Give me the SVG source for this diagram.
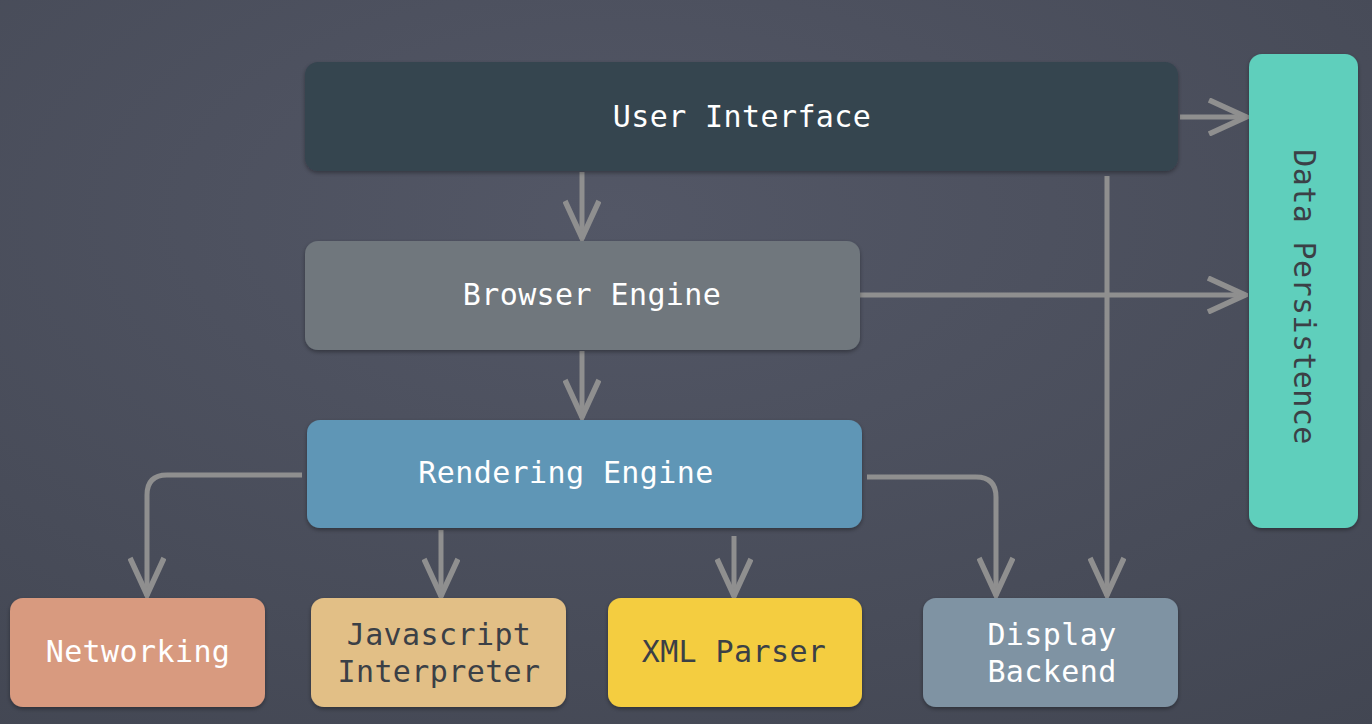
<svg xmlns="http://www.w3.org/2000/svg" width="1372" height="724" viewBox="0 0 1372 724">
  <style>
    .box { filter: url(#shadow); }
    .label { font-family: "DejaVu Sans Mono", "Liberation Mono", monospace; font-size: 30px; text-anchor: middle; letter-spacing: 0.4px; }
    .light { fill: #ffffff; }
    .dark { fill: #3b4046; }
    .wire { fill: none; stroke: #8f8f8f; stroke-width: 5; marker-end: url(#open); }
  </style>
  <defs>
    <radialGradient id="slate" cx="0.45" cy="0.3" r="0.9">
      <stop offset="0" stop-color="#535766"/>
      <stop offset="1" stop-color="#424652"/>
    </radialGradient>
    <filter id="shadow" x="-10%" y="-10%" width="120%" height="130%">
      <feDropShadow dx="0" dy="2" stdDeviation="2" flood-color="#000" flood-opacity="0.35"/>
    </filter>
    <marker id="open" viewBox="0 0 42 38" refX="40" refY="19" markerWidth="42" markerHeight="38" markerUnits="userSpaceOnUse" orient="auto">
      <path d="M2,2 L39,19 L2,36" fill="none" stroke="#8f8f8f" stroke-width="5.5"/>
    </marker>
  </defs>

  <rect width="1372" height="724" fill="url(#slate)"/>

  <g id="connectors">
    <path class="wire" d="M582,172 V239"/>
    <path class="wire" d="M582,351 V418"/>
    <path class="wire" d="M1180,117 H1247"/>
    <path class="wire" d="M860,295 H1246"/>
    <path class="wire" d="M1107,176 V596"/>
    <path class="wire" d="M302,475 H167 Q147,475 147,495 V596"/>
    <path class="wire" d="M441,530 V597"/>
    <path class="wire" d="M734,536 V597"/>
    <path class="wire" d="M867,477 H976 Q996,477 996,497 V596"/>
  </g>

  <g id="user-interface">
    <rect class="box" x="305" y="62" width="873" height="109" rx="13" fill="#35444f"/>
    <text class="label light" x="742" y="127">User Interface</text>
  </g>

  <g id="browser-engine">
    <rect class="box" x="305" y="241" width="555" height="109" rx="13" fill="#6f777d"/>
    <text class="label light" x="592" y="305">Browser Engine</text>
  </g>

  <g id="rendering-engine">
    <rect class="box" x="307" y="420" width="555" height="108" rx="13" fill="#5f96b6"/>
    <text class="label light" x="566" y="483">Rendering Engine</text>
  </g>

  <g id="data-persistence">
    <rect class="box" x="1249" y="54" width="109" height="474" rx="13" fill="#5ecfbc"/>
    <text class="label dark" transform="translate(1294,297) rotate(90)" x="0" y="0">Data Persistence</text>
  </g>

  <g id="networking">
    <rect class="box" x="10" y="598" width="255" height="109" rx="13" fill="#d89a7f"/>
    <text class="label light" x="138" y="662">Networking</text>
  </g>

  <g id="javascript-interpreter">
    <rect class="box" x="311" y="598" width="255" height="109" rx="13" fill="#e2bf86"/>
    <text class="label dark" x="439" y="645">Javascript</text>
    <text class="label dark" x="439" y="682">Interpreter</text>
  </g>

  <g id="xml-parser">
    <rect class="box" x="608" y="598" width="254" height="109" rx="13" fill="#f4cd40"/>
    <text class="label dark" x="734" y="662">XML Parser</text>
  </g>

  <g id="display-backend">
    <rect class="box" x="923" y="598" width="255" height="109" rx="13" fill="#7f93a3"/>
    <text class="label light" x="1052" y="645">Display</text>
    <text class="label light" x="1052" y="682">Backend</text>
  </g>
</svg>
